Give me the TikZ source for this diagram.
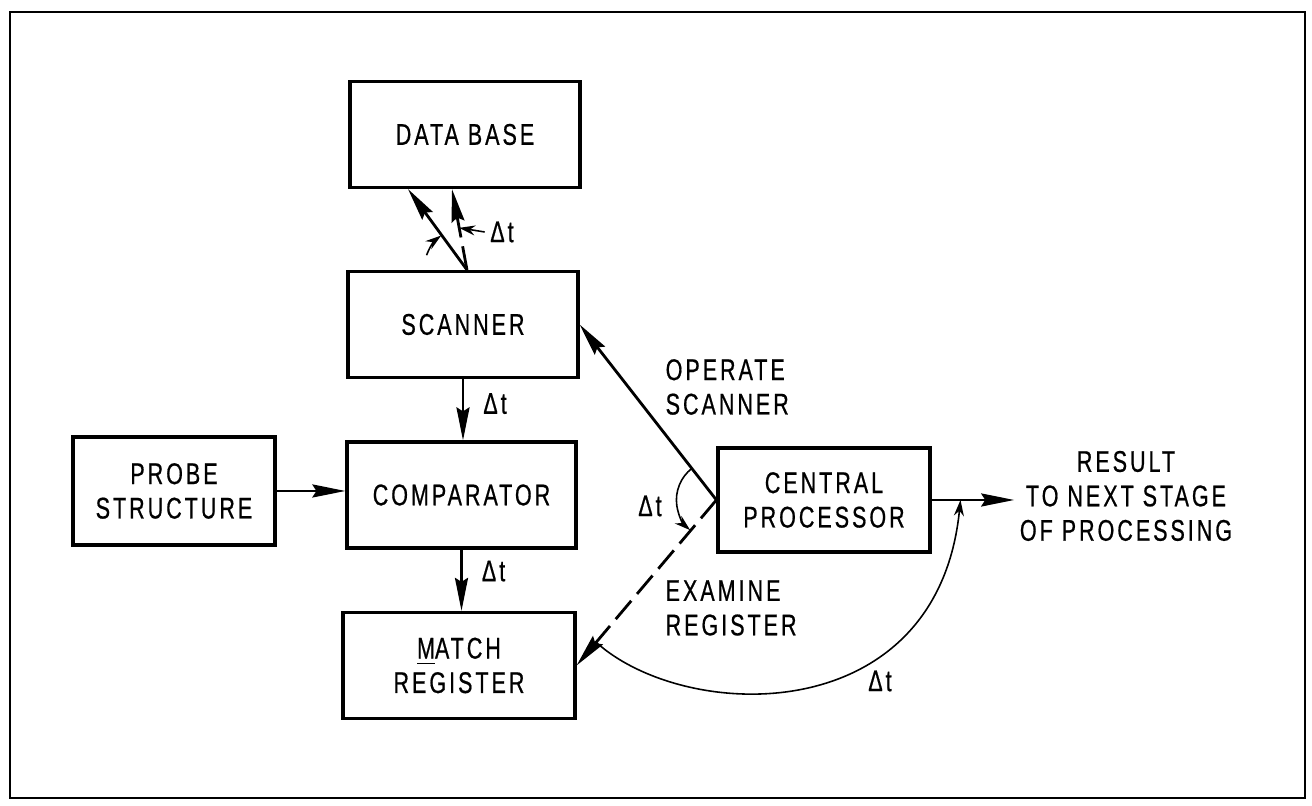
\documentclass[tikz,border=0pt]{standalone}
\usepackage{fontspec}
\setmainfont{Liberation Sans}[FakeStretch=0.72,LetterSpace=10,FakeBold=0.6]
\usetikzlibrary{arrows.meta,calc}

\begin{document}
\begin{tikzpicture}[
            font=\fontsize{8.5}{9.8}\selectfont,
            blk/.style={draw, line width=0.9pt, inner sep=0pt, align=center, minimum width=2.3cm, minimum height=1.06cm},
            lbl/.style={inner sep=0.5mm, align=center},
            arr/.style={line width=0.8pt, -{Stealth[length=3.3mm,width=1.3mm,inset=0.4mm]}},
            dsh/.style={arr, dash pattern=on 2.4mm off 0.9mm},
            tic/.style={line width=0.45pt, -{Stealth[length=1.6mm,width=1mm]}}]

            \useasboundingbox (0,0) rectangle (13.12,8.06);
            \draw[line width=0.8pt] (0.10,0.08) rectangle (13.05,7.94);

            \node[blk] (base) at (4.65,6.715) {DATA BASE};
            \node[blk] (scan) at (4.63,4.815) {SCANNER};
            \node[blk, minimum width=2.29cm] (comp) at (4.615,3.11) {COMPARATOR};
            \node[blk, minimum width=2.32cm] (match) at (4.59,1.405) {\underline{M}ATCH\\REGISTER};
            \node[blk, minimum width=2.02cm, minimum height=1.08cm] (probe) at (1.74,3.15) {PROBE\\STRUCTURE};
            \node[blk, minimum width=2.12cm, minimum height=1.04cm] (cpu) at (8.24,3.06) {CENTRAL\\PROCESSOR};

            \node[lbl] (result) at (11.26,3.10) {RESULT\\TO NEXT STAGE\\OF PROCESSING};
            \node[lbl, anchor=west, align=left] (opscan) at (6.60,4.19) {OPERATE\\SCANNER};
            \node[lbl, anchor=west, align=left] (exreg) at (6.60,1.98) {EXAMINE\\REGISTER};

            % scanner -- data base
            \coordinate (scTop) at ([xshift=0.04cm]scan.north);
            \coordinate (dbA) at ([xshift=-0.57cm]base.south);
            \coordinate (dbB) at ([xshift=-0.13cm]base.south);
            \draw[arr] (scTop) -- (dbA);
            \draw[dsh] (scTop) -- (dbB);
            \draw[tic] ([shift={(160:0.43)}]scTop) arc[start angle=160, end angle=127, radius=0.43];
            \coordinate (dbMid) at ($(scTop)!0.52!(dbB)$);
            \node[lbl] (dtBase) at (5.02,5.74) {Δt};
            \draw[tic] (dtBase.west) -- (dbMid);

            \draw[arr] (scan.south) -- (scan.south |- comp.north) node[lbl, right=1.4mm, pos=0.4] (dtScan) {Δt};
            \draw[arr] (comp.south) -- (comp.south |- match.north) node[lbl, right=1.4mm, pos=0.35] (dtComp) {Δt};
            \draw[arr] (probe.east) -- (probe.east -| comp.west);

            % central processor
            \draw[arr] (cpu.west) -- (scan.east);
            \draw[dsh] (cpu.west) -- (match.east);
            \draw[tic] ([shift={(128:0.4)}]cpu.west) arc[start angle=128, end angle=229, radius=0.4];
            \node[lbl] (dtCpu) at (6.50,3.00) {Δt};

            \coordinate (resIn) at (cpu.east -| result.west);
            \draw[arr] (cpu.east) -- (resIn);
            \coordinate (mrTap) at ($(cpu.west)!0.86!(match.east)$);
            \coordinate (resTap) at ($(cpu.east)!0.35!(resIn)$);
            \draw[tic] (mrTap) .. controls +(0.9,-0.81) and +(-0.23,-2.3) .. (resTap);
            \node[lbl] (dtLoop) at (8.80,1.25) {Δt};
\end{tikzpicture}
\end{document}
